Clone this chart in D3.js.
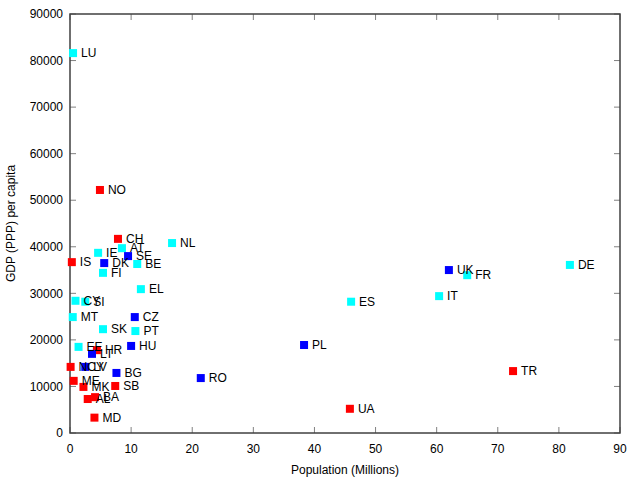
<!DOCTYPE html>
<html>
<head>
<meta charset="utf-8">
<script src="https://cdn.jsdelivr.net/npm/d3@7"></script>
<style>
  body { margin: 0; background: #fff; }
  text { font-family: "Liberation Sans", Arial, sans-serif; }
</style>
</head>
<body>
<script>
// country codes, population (millions), GDP (PPP) per capita, group
const countries = ["LU", "NO", "CH", "NL", "IE", "AT", "SE", "IS", "DK", "BE", "FI", "EL",
    "CY", "SI", "MT", "CZ", "SK", "PT", "EE", "HU", "PL", "HR", "LT", "NCY", "LV", "ME",
    "MK", "BG", "SB", "AL", "BA", "MD", "RO", "UA", "ES", "IT", "UK", "FR", "DE", "TR"];
const population = [0.5, 4.9, 7.85, 16.7, 4.6, 8.5, 9.5, 0.3, 5.6, 11.0, 5.4, 11.6,
    0.9, 2.5, 0.45, 10.6, 5.4, 10.7, 1.4, 10.0, 38.3, 4.4, 3.6, 0.1, 2.5, 0.6,
    2.2, 7.6, 7.4, 2.9, 4.1, 4.0, 21.4, 45.8, 46.0, 60.4, 62.0, 65.0, 81.8, 72.5];
const gdp = [81600, 52200, 41700, 40800, 38700, 39700, 38000, 36700, 36500, 36300, 34400, 30900,
    28400, 28200, 24900, 24900, 22300, 21900, 18500, 18700, 18900, 17800, 17000, 14200, 14200, 11200,
    9900, 12900, 10100, 7300, 7700, 3300, 11800, 5200, 28200, 29400, 35000, 33900, 36100, 13300];
// 0 = cyan, 1 = blue, 2 = red
const group = [0, 2, 2, 0, 0, 0, 1, 2, 1, 0, 0, 0,
    0, 0, 0, 1, 0, 0, 0, 1, 1, 2, 1, 2, 1, 2,
    2, 1, 2, 2, 2, 2, 1, 2, 0, 0, 1, 0, 0, 2];
const groupColors = ["#00ffff", "#0000ff", "#ff0000"];

const xTicks = [0, 10, 20, 30, 40, 50, 60, 70, 80, 90];
const yTicks = [0, 10000, 20000, 30000, 40000, 50000, 60000, 70000, 80000, 90000];

const W = 640, H = 480;
const plotLeft = 70, plotRight = 620, plotTop = 14, plotBottom = 433;

const svg = d3.select("body").append("svg")
    .attr("width", W)
    .attr("height", H);

const x = d3.scaleLinear().domain([0, 90]).range([plotLeft, plotRight]);
const y = d3.scaleLinear().domain([0, 90000]).range([plotBottom, plotTop]);
const color = d3.scaleOrdinal().domain([0, 1, 2]).range(groupColors);

// ticks, mirrored on all four sides, pointing inward
const tickLen = 6;
const tickColor = "#808080";
const g = svg.append("g");

xTicks.forEach(t => {
    g.append("line").attr("x1", x(t)).attr("x2", x(t))
        .attr("y1", plotBottom).attr("y2", plotBottom - tickLen)
        .attr("stroke", tickColor);
    g.append("line").attr("x1", x(t)).attr("x2", x(t))
        .attr("y1", plotTop).attr("y2", plotTop + tickLen)
        .attr("stroke", tickColor);
    g.append("text").attr("x", x(t)).attr("y", plotBottom + 20)
        .attr("text-anchor", "middle")
        .attr("font-size", 12)
        .text(t);
});

yTicks.forEach(t => {
    g.append("line").attr("x1", plotLeft).attr("x2", plotLeft + tickLen)
        .attr("y1", y(t)).attr("y2", y(t))
        .attr("stroke", tickColor);
    g.append("line").attr("x1", plotRight).attr("x2", plotRight - tickLen)
        .attr("y1", y(t)).attr("y2", y(t))
        .attr("stroke", tickColor);
    g.append("text").attr("x", plotLeft - 7).attr("y", y(t))
        .attr("dy", "0.35em")
        .attr("text-anchor", "end")
        .attr("font-size", 12)
        .text(t);
});

// frame
svg.append("rect")
    .attr("x", plotLeft).attr("y", plotTop)
    .attr("width", plotRight - plotLeft).attr("height", plotBottom - plotTop)
    .attr("fill", "none")
    .attr("stroke", "#404040")
    .attr("stroke-width", 1.5);

// axis titles
svg.append("text")
    .attr("x", (plotLeft + plotRight) / 2).attr("y", 474)
    .attr("text-anchor", "middle")
    .attr("font-size", 12)
    .text("Population (Millions)");

svg.append("text")
    .attr("transform", "translate(15," + ((plotTop + plotBottom) / 2) + ") rotate(-90)")
    .attr("text-anchor", "middle")
    .attr("font-size", 12)
    .text("GDP (PPP) per capita");

// points
const idx = d3.range(countries.length);
const size = 8;

svg.append("g").selectAll("rect")
    .data(idx)
    .join("rect")
    .attr("x", i => x(population[i]) - size / 2)
    .attr("y", i => y(gdp[i]) - size / 2)
    .attr("width", size)
    .attr("height", size)
    .attr("fill", i => color(group[i]));

svg.append("g").selectAll("text")
    .data(idx)
    .join("text")
    .attr("x", i => x(population[i]) + 8)
    .attr("y", i => y(gdp[i]))
    .attr("dy", "0.35em")
    .attr("font-size", 12)
    .text(i => countries[i]);
</script>
</body>
</html>
